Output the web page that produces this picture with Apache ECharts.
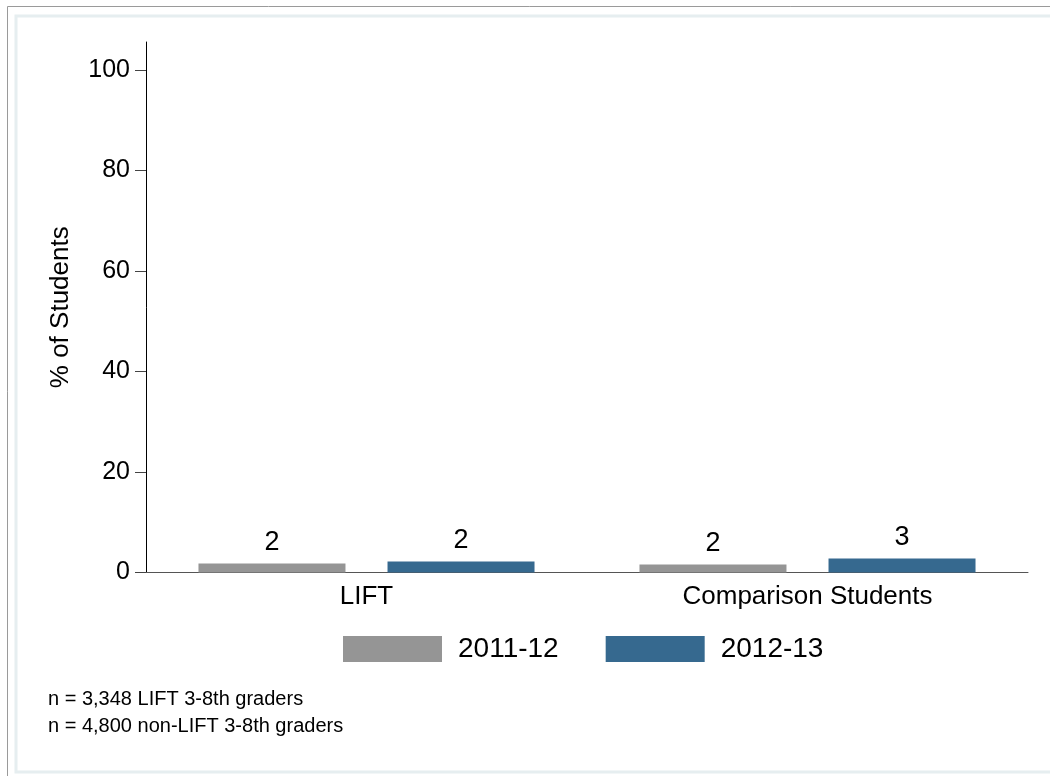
<!DOCTYPE html>
<html>
<head>
<meta charset="utf-8">
<script src="https://cdn.jsdelivr.net/npm/echarts@6/dist/echarts.min.js"></script>
<style>
html,body{margin:0;padding:0;background:#fff;}
#chart{width:1050px;height:776px;}
</style>
</head>
<body>
<div id="chart"></div>
<script>
const categories = ['LIFT', 'Comparison Students'];
const seriesNames = ['2011-12', '2012-13'];
const values2011 = [1.8, 1.6];
const values2012 = [2.2, 2.8];
const yTicks = [0, 20, 40, 60, 80, 100];
const yMax = 105.6;
const yTitle = '% of Students';
const footnotes = ['n = 3,348 LIFT 3-8th graders', 'n = 4,800 non-LIFT 3-8th graders'];

const FONT = "'Liberation Sans', Arial, sans-serif";
const chart = echarts.init(document.getElementById('chart'), null, {renderer: 'canvas'});

const labelCfg = {
  show: true, position: 'top', distance: 7,
  fontSize: 27, color: '#000', fontFamily: FONT,
  formatter: p => String(Math.round(p.value))
};

chart.setOption({
  animation: false,
  textStyle: {fontFamily: FONT, color: '#000'},
  grid: {left: 146, right: 22, top: 42, bottom: 203.5, containLabel: false},
  xAxis: {
    type: 'category', data: categories,
    axisLine: {show: true, lineStyle: {color: '#555', width: 1}},
    axisTick: {show: false},
    axisLabel: {fontSize: 26, color: '#000', margin: 11, fontFamily: FONT},
    splitLine: {show: false}
  },
  yAxis: {
    type: 'value', min: 0, max: yMax, interval: 20,
    name: yTitle, nameLocation: 'middle', nameGap: 72,
    nameTextStyle: {fontSize: 26, color: '#000', fontFamily: FONT},
    axisLine: {show: true, lineStyle: {color: '#000', width: 1}},
    axisTick: {show: true, length: 11, customValues: yTicks, lineStyle: {color: '#444'}},
    axisLabel: {fontSize: 25, color: '#000', margin: 16, customValues: yTicks, fontFamily: FONT},
    splitLine: {show: false}
  },
  legend: {
    data: seriesNames, left: 343, top: 635, padding: 0,
    itemWidth: 99, itemHeight: 26, itemGap: 47, icon: 'rect',
    textStyle: {fontSize: 28, color: '#000', fontFamily: FONT, padding: [0, 0, 0, 11]}
  },
  series: [
    {name: seriesNames[0], type: 'bar', data: values2011, barWidth: 147, barGap: '28.6%',
     itemStyle: {color: '#959595'}, label: labelCfg},
    {name: seriesNames[1], type: 'bar', data: values2012, barWidth: 147, barGap: '28.6%',
     itemStyle: {color: '#36698f'}, label: labelCfg}
  ],
  graphic: [
    {type: 'rect', silent: true, z: -10, shape: {x: 7.5, y: 6.5, width: 1100, height: 1000},
     style: {fill: 'none', stroke: '#9a9a9a', lineWidth: 1}},
    {type: 'rect', silent: true, z: -10, shape: {x: 16, y: 16, width: 1100, height: 756},
     style: {fill: 'none', stroke: '#e6eef0', lineWidth: 3}},
    {type: 'text', left: 48, top: 689, style: {text: footnotes[0], fontSize: 20, fill: '#000', fontFamily: FONT}},
    {type: 'text', left: 48, top: 716, style: {text: footnotes[1], fontSize: 20, fill: '#000', fontFamily: FONT}}
  ]
});
</script>
</body>
</html>
